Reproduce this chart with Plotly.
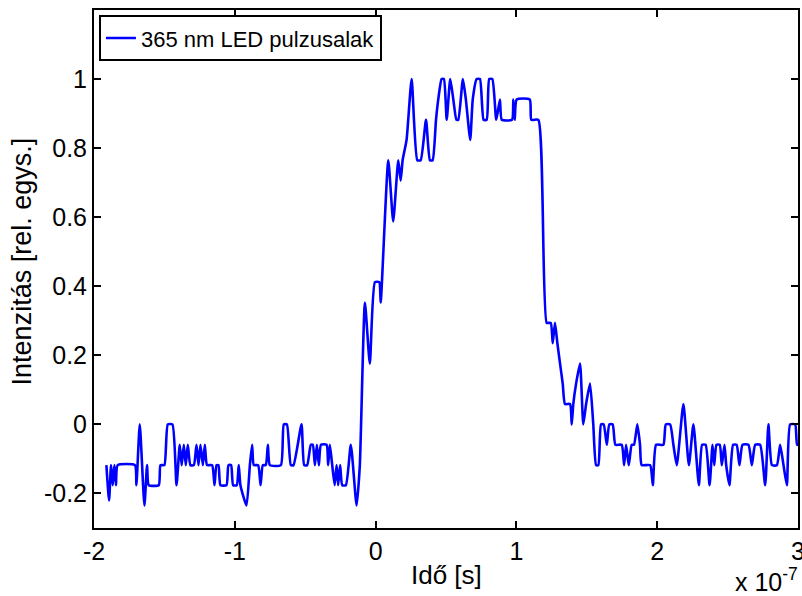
import plotly.graph_objects as go

# time in units of 1e-7 s, intensity in relative units
t = [-1.912, -1.893, -1.879, -1.867, -1.855, -1.844, -1.832, -1.709, -1.699, -1.675,
     -1.642, -1.623, -1.611, -1.540, -1.528, -1.500, -1.476, -1.443, -1.414, -1.391,
     -1.377, -1.362, -1.348, -1.334, -1.315, -1.291, -1.272, -1.258, -1.244, -1.227,
     -1.213, -1.197, -1.161, -1.144, -1.130, -1.116, -1.102, -1.059, -1.045, -1.026,
     -1.012, -0.986, -0.972, -0.960, -0.917, -0.893, -0.877, -0.865, -0.834, -0.817,
     -0.801, -0.780, -0.765, -0.751, -0.673, -0.652, -0.630, -0.602, -0.583, -0.526,
     -0.507, -0.486, -0.460, -0.446, -0.431, -0.417, -0.403, -0.388, -0.348, -0.337,
     -0.325, -0.308, -0.291, -0.277, -0.266, -0.252, -0.237, -0.211, -0.176, -0.135,
     -0.112, -0.076, -0.041, -0.005, 0.026, 0.036, 0.090, 0.125, 0.161, 0.178,
     0.192, 0.220, 0.256, 0.296, 0.320, 0.358, 0.386, 0.405, 0.429, 0.445,
     0.469, 0.485, 0.505, 0.530, 0.552, 0.574, 0.587, 0.620, 0.641, 0.672,
     0.690, 0.718, 0.741, 0.767, 0.789, 0.807, 0.829, 0.857, 0.883, 0.896,
     0.969, 0.978, 0.988, 1.002, 1.095, 1.106, 1.156, 1.215, 1.244, 1.258,
     1.274, 1.291, 1.310, 1.329, 1.345, 1.381, 1.393, 1.404, 1.424, 1.452,
     1.475, 1.495, 1.523, 1.546, 1.566, 1.582, 1.601, 1.620, 1.642, 1.660,
     1.684, 1.703, 1.748, 1.765, 1.779, 1.798, 1.819, 1.835, 1.859, 1.878,
     1.890, 1.950, 1.969, 1.992, 2.044, 2.061, 2.092, 2.115, 2.139, 2.186,
     2.225, 2.257, 2.296, 2.319, 2.344, 2.372, 2.393, 2.405, 2.421, 2.444,
     2.459, 2.478, 2.490, 2.513, 2.539, 2.564, 2.584, 2.606, 2.648, 2.672,
     2.696, 2.731, 2.767, 2.790, 2.815, 2.850, 2.873, 2.897, 2.921, 2.944,
     2.980, 2.994, 3.015]

intensity = [-0.118, -0.22, -0.118, -0.176, -0.118, -0.176, -0.118, -0.118, -0.176, 0.0,
             -0.235, -0.118, -0.176, -0.176, -0.118, -0.118, 0.0, 0.0, -0.176, -0.059,
             -0.118, -0.059, -0.118, -0.059, -0.118, -0.118, -0.059, -0.118, -0.059, -0.118,
             -0.059, -0.118, -0.118, -0.176, -0.118, -0.118, -0.176, -0.176, -0.118, -0.118,
             -0.176, -0.176, -0.118, -0.176, -0.235, -0.118, -0.059, -0.118, -0.118, -0.176,
             -0.118, -0.118, -0.059, -0.118, -0.118, 0.0, 0.0, -0.118, -0.118, 0.0,
             -0.118, -0.118, -0.059, -0.059, -0.118, -0.059, -0.118, -0.059, -0.059, -0.118,
             -0.059, -0.118, -0.176, -0.118, -0.176, -0.118, -0.176, -0.176, -0.059, -0.235,
             -0.118, 0.353, 0.176, 0.412, 0.412, 0.353, 0.765, 0.588, 0.765, 0.706,
             0.765, 0.824, 1.0, 0.765, 0.765, 0.882, 0.765, 0.765, 0.882, 0.941,
             1.0, 1.0, 0.882, 1.0, 0.941, 0.882, 0.882, 1.0, 0.941, 0.824,
             0.941, 1.0, 1.0, 0.882, 0.882, 1.0, 1.0, 0.882, 0.941, 0.882,
             0.882, 0.941, 0.882, 0.941, 0.941, 0.882, 0.882, 0.294, 0.294, 0.235,
             0.294, 0.235, 0.176, 0.118, 0.059, 0.059, 0.0, 0.059, 0.118, 0.176,
             0.0, 0.059, 0.118, 0.0, -0.118, -0.118, 0.0, 0.0, -0.059, 0.0,
             0.0, -0.059, -0.059, -0.118, -0.059, -0.118, -0.059, -0.059, 0.0, -0.059,
             -0.118, -0.118, -0.176, -0.059, -0.059, 0.0, 0.0, -0.059, -0.118, 0.059,
             -0.118, 0.0, -0.176, -0.059, -0.059, -0.176, -0.059, -0.118, -0.059, -0.059,
             -0.118, -0.059, -0.118, -0.176, -0.059, -0.059, -0.118, -0.059, -0.059, -0.118,
             -0.059, -0.059, -0.176, 0.0, -0.118, -0.118, -0.059, -0.118, -0.176, 0.0,
             0.0, -0.059, -0.059]

x_ticks = [-2, -1, 0, 1, 2, 3]
x_ticktext = ["-2", "-1", "0", "1", "2", "3"]
y_ticks = [-0.2, 0, 0.2, 0.4, 0.6, 0.8, 1.0]
y_ticktext = ["-0.2", "0", "0.2", "0.4", "0.6", "0.8", "1"]

FONT = "Liberation Sans, Arial, Helvetica, sans-serif"

fig = go.Figure()
fig.add_trace(go.Scatter(
    x=t, y=intensity, mode="lines",
    line=dict(color="#0000FF", width=2.6, shape="spline", smoothing=0.5),
    name="365 nm LED pulzusalak",
))

axis_common = dict(
    showline=True, linecolor="black", linewidth=2, mirror="ticks",
    ticks="inside", ticklen=7, tickwidth=2, tickcolor="black",
    showgrid=False, zeroline=False, ticklabeloverflow="allow", automargin=False,
    tickfont=dict(family=FONT, size=25, color="black"),
)

fig.update_layout(
    width=802, height=596,
    margin=dict(l=94, r=4, t=10, b=68, autoexpand=False),
    paper_bgcolor="white", plot_bgcolor="white",
    showlegend=True,
    legend=dict(
        x=0.007, y=0.99, xanchor="left", yanchor="top",
        bordercolor="black", borderwidth=2, bgcolor="white",
        font=dict(family=FONT, size=22, color="black"),
        itemwidth=30, tracegroupgap=0,
    ),
    xaxis=dict(range=[-2, 3], tickvals=x_ticks, ticktext=x_ticktext, **axis_common),
    yaxis=dict(range=[-0.3, 1.2], tickvals=y_ticks, ticktext=y_ticktext, **axis_common),
    annotations=[
        dict(text="Idő [s]", xref="paper", yref="paper", x=0.5, y=-0.091,
             xanchor="center", yanchor="middle", showarrow=False,
             font=dict(family=FONT, size=26, color="black")),
        dict(text="Intenzitás [rel. egys.]", xref="paper", yref="paper", x=-0.102, y=0.515,
             xanchor="center", yanchor="middle", textangle=-90, showarrow=False,
             font=dict(family=FONT, size=27, color="black")),
        dict(text="x 10<sup>-7</sup>", xref="paper", yref="paper", x=1.003, y=-0.1,
             xanchor="right", yanchor="middle", showarrow=False,
             font=dict(family=FONT, size=25, color="black")),
    ],
)

fig.write_html("out.html")
